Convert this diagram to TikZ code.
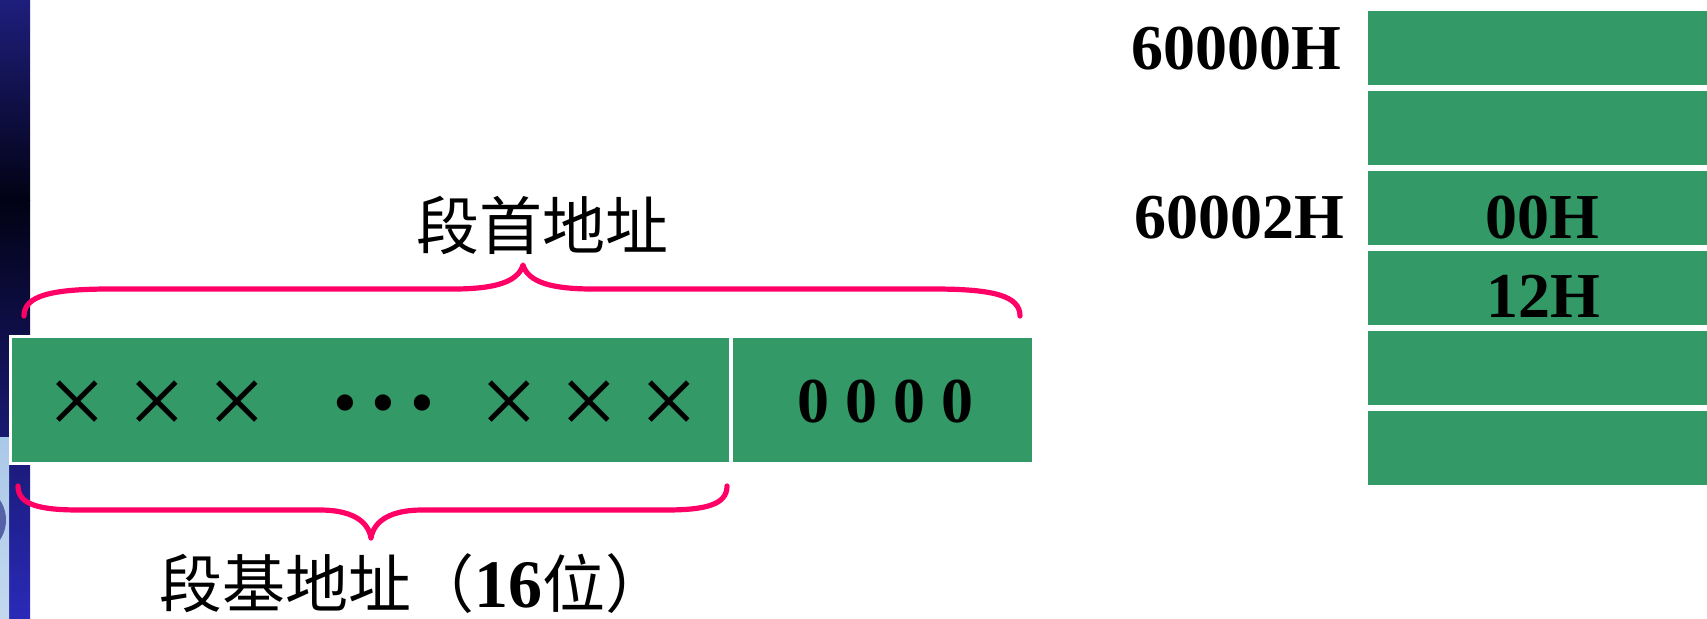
\documentclass[tikz,border=0pt]{standalone}
\usepackage{fontspec}
\setmainfont{Liberation Serif}
\newfontfamily\cjk{Noto Sans CJK SC}
\definecolor{sgreen}{RGB}{51,153,102}
\definecolor{bpink}{RGB}{255,0,102}
\definecolor{navyA}{RGB}{30,30,125}
\definecolor{navyB}{RGB}{2,2,20}
\definecolor{navyC}{RGB}{42,42,185}
\definecolor{lblue}{RGB}{170,200,232}
\tikzset{
  cell/.style={fill=sgreen, draw=white, line width=1.5pt},
  bracepath/.style={draw=bpink, line width=2.6pt, line cap=round, line join=round},
  boldtxt/.style={inner sep=0pt, font=\fontsize{32pt}{32pt}\selectfont\bfseries},
  cjktxt/.style={inner sep=0pt, font=\fontsize{31.5pt}{32pt}\selectfont\cjk},
  crosstxt/.style={inner sep=0pt, font=\fontsize{51pt}{51pt}\selectfont},
  dottxt/.style={inner sep=0pt, font=\fontsize{34pt}{34pt}\selectfont},
}
\begin{document}
\begin{tikzpicture}[x=0.5pt,y=-0.5pt]
\useasboundingbox (0,0) rectangle (1707,618);
\clip (0,0) rectangle (1707,618);
% slide background strip
\shade[top color=navyA, bottom color=navyB] (0,0) rectangle (30,200);
\shade[top color=navyB, bottom color=navyC] (0,200) rectangle (30,618);
\shade[top color=lblue, bottom color=lblue!70!white] (0,437) rectangle (9,618);
\draw[line width=3pt, color=navyA!60!lblue] (-30,520) circle (33);
% left register box
\path[cell] (10,336) rectangle (730,463);
\path[cell] (731,336) rectangle (1033,463);
\foreach \i/\x in {1/77,2/157,3/237,4/509,5/589,6/669}{
  \node[crosstxt] (x\i) at (\x,408) {×};
}
\foreach \i/\x in {1/345,2/383,3/422}{
  \node[dottxt] (d\i) at (\x,410) {•};
}
\node[boldtxt] (zeros) at (885,402) {0 0 0 0};
% braces
\draw[bracepath] (24,316) .. controls (24,296) and (50,289) .. (110,289)
  -- (453,289) .. controls (495,289) and (518,282) .. (523,265)
  .. controls (528,282) and (551,289) .. (593,289)
  -- (934,289) .. controls (994,289) and (1020,296) .. (1020,316);
\draw[bracepath] (18,486) .. controls (18,505) and (40,510) .. (80,510)
  -- (320,510) .. controls (350,510) and (368,520) .. (371,538)
  .. controls (374,520) and (392,510) .. (422,510)
  -- (665,510) .. controls (705,510) and (727,505) .. (727,486);
\node[cjktxt] (top) at (542,225) {段首地址};
\node[cjktxt, anchor=west] (bot) at (159,584) {段基地址（{\rmfamily\bfseries\fontsize{34pt}{34pt}\selectfont 16}位）};
% memory column
\foreach \i/\y in {0/9,1/89,2/169,3/249,4/329,5/409}{
  \path[cell] (1366,\y) rectangle (1720,\y+77);
}
\node[boldtxt, anchor=base east] (a0) at (1342,69) {60000H};
\node[boldtxt, anchor=base east] (a2) at (1345,238) {60002H};
\node[boldtxt, anchor=base] (m2) at (1542,238) {00H};
\node[boldtxt, anchor=base] (m3) at (1543,317) {12H};
\end{tikzpicture}
\end{document}
